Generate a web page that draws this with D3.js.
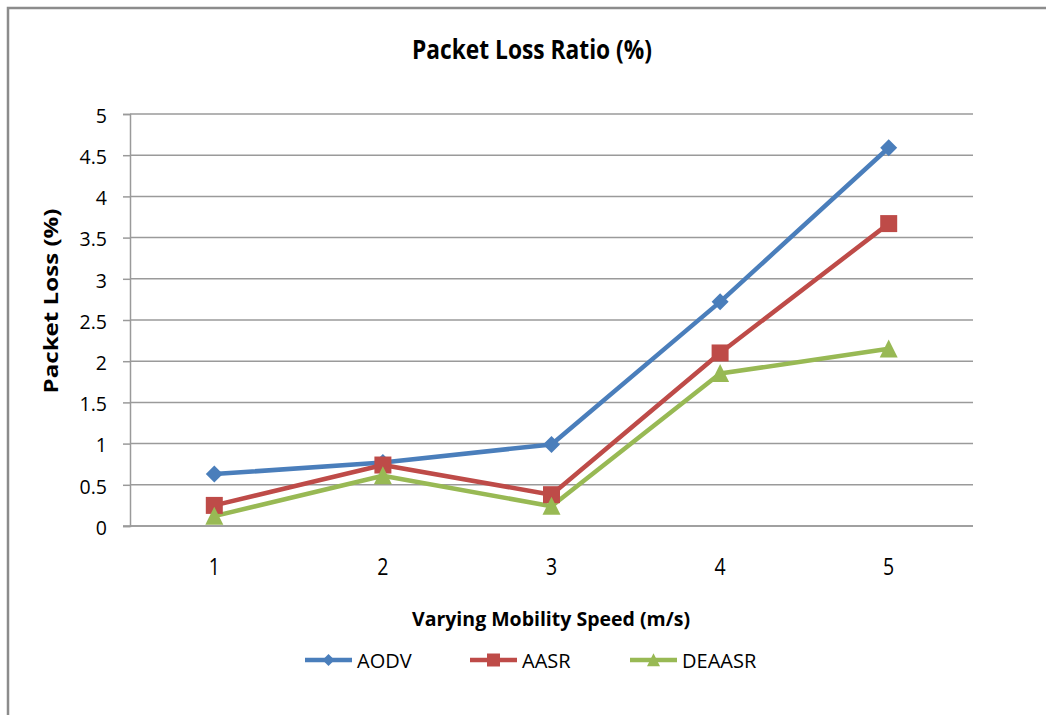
<!DOCTYPE html>
<html>
<head>
<meta charset="utf-8">
<script src="https://cdn.jsdelivr.net/npm/d3@7"></script>
<style>
  html, body { margin: 0; padding: 0; background: #fff; }
  svg { display: block; }
  text { font-family: "Open Sans", "Liberation Sans", sans-serif; fill: #000; }
</style>
</head>
<body>
<svg id="chart" width="1046" height="715"></svg>
<script>
const categories = ["1", "2", "3", "4", "5"];
const yTicks = [0, 0.5, 1, 1.5, 2, 2.5, 3, 3.5, 4, 4.5, 5];
const seriesNames = ["AODV", "AASR", "DEAASR"];
const aodv   = [0.63, 0.77, 0.99, 2.72, 4.59];
const aasr   = [0.25, 0.74, 0.38, 2.10, 3.67];
const deaasr = [0.12, 0.61, 0.24, 1.85, 2.15];
const seriesColors = ["#4A7EBB", "#BE4B48", "#98B954"];
const markerTypes = ["diamond", "square", "triangle"];

(function () {
const svg = d3.select("#chart");
const W = 1046, H = 715;

// frame border
svg.append("path")
  .attr("d", `M8,${H} L8,8 L${W},8`)
  .attr("fill", "none").attr("stroke", "#8c8c8c").attr("stroke-width", 2.5);

const pLeft = 130, pRight = 973, pTop = 114, pBottom = 526;
const x = d3.scaleBand().domain(categories).range([pLeft, pRight]);
const y = d3.scaleLinear().domain([0, 5]).range([pBottom, pTop]);

// gridlines
svg.append("g").selectAll("line").data(yTicks).join("line")
  .attr("x1", pLeft).attr("x2", pRight)
  .attr("y1", d => y(d)).attr("y2", d => y(d))
  .attr("stroke", "#9a9a9a").attr("stroke-width", 1.5);

// y axis
const yAxis = d3.axisLeft(y).tickValues(yTicks).tickSize(7).tickPadding(16)
  .tickFormat(d => String(d));
const gy = svg.append("g").attr("transform", `translate(${pLeft},0)`).call(yAxis);
gy.select(".domain").attr("stroke", "#9a9a9a").attr("stroke-width", 1.5);
gy.selectAll(".tick line").attr("stroke", "#9a9a9a").attr("stroke-width", 1.5);
gy.selectAll(".tick text").style("font-size", "19.5px").attr("fill", "#000")
  .attr("dy", "0.42em")
  .style("font-family", "'Open Sans', sans-serif");

// x axis
const xAxis = d3.axisBottom(x).tickSize(0).tickPadding(0);
const gx = svg.append("g").attr("transform", `translate(0,${pBottom})`).call(xAxis);
gx.select(".domain").remove();
gx.selectAll(".tick text")
  .attr("y", 0).attr("dy", 0)
  .attr("transform", "translate(0,49) scale(1,1.22)")
  .style("font-size", "19.5px").attr("fill", "#000")
  .style("font-family", "'Open Sans', sans-serif");
svg.append("line").attr("x1", pLeft - 7).attr("x2", pRight)
  .attr("y1", pBottom).attr("y2", pBottom)
  .attr("stroke", "#9a9a9a").attr("stroke-width", 1.5);

// series
const allSeries = [aodv, aasr, deaasr];
const cx = c => x(c) + x.bandwidth() / 2;
const line = d3.line().x((d, i) => cx(categories[i])).y(d => y(d));

function markerPath(type, size) {
  const s = size / 2;
  if (type === "diamond") return `M0,${-s} L${s},0 L0,${s} L${-s},0 Z`;
  if (type === "square") return `M${-s},${-s} L${s},${-s} L${s},${s} L${-s},${s} Z`;
  return `M0,${-s * 1.05} L${s},${s * 0.95} L${-s},${s * 0.95} Z`;
}
const markerSizes = [17, 17, 18];

allSeries.forEach((vals, k) => {
  svg.append("path").datum(vals)
    .attr("d", line)
    .attr("fill", "none")
    .attr("stroke", seriesColors[k])
    .attr("stroke-width", 4.5)
    .attr("stroke-linejoin", "round");
});
allSeries.forEach((vals, k) => {
  svg.append("g").selectAll("path").data(vals).join("path")
    .attr("transform", (d, i) => `translate(${cx(categories[i])},${y(d)})`)
    .attr("d", markerPath(markerTypes[k], markerSizes[k]))
    .attr("fill", seriesColors[k]);
});

// titles
svg.append("text")
  .attr("transform", "translate(532,59) scale(1,1.2)")
  .attr("text-anchor", "middle")
  .attr("textLength", 240).attr("lengthAdjust", "spacingAndGlyphs")
  .style("font-size", "23px").style("font-weight", "bold")
  .style("font-family", "'Open Sans', sans-serif")
  .text("Packet Loss Ratio (%)");

svg.append("text")
  .attr("transform", "translate(58,301) rotate(-90)")
  .attr("text-anchor", "middle")
  .attr("textLength", 185).attr("lengthAdjust", "spacingAndGlyphs")
  .style("font-size", "19px").style("font-weight", "bold")
  .style("font-family", "'Open Sans', sans-serif")
  .text("Packet Loss (%)");

svg.append("text").attr("x", 551).attr("y", 626)
  .attr("text-anchor", "middle")
  .attr("textLength", 278).attr("lengthAdjust", "spacingAndGlyphs")
  .style("font-size", "20px").style("font-weight", "bold")
  .style("font-family", "'Open Sans', sans-serif")
  .text("Varying Mobility Speed (m/s)");

// legend
const legendX = [305, 470, 630];
const legendY = 660;
seriesNames.forEach((name, k) => {
  const g = svg.append("g").attr("transform", `translate(${legendX[k]},${legendY})`);
  g.append("line").attr("x1", 0).attr("x2", 47).attr("y1", 0).attr("y2", 0)
    .attr("stroke", seriesColors[k]).attr("stroke-width", 4.5);
  g.append("path").attr("transform", "translate(23.5,0)")
    .attr("d", markerPath(markerTypes[k], markerTypes[k] === "diamond" ? 12 : 13))
    .attr("fill", seriesColors[k]);
  g.append("text").attr("x", 52).attr("y", 8)
    .style("font-size", "20px")
    .style("font-family", "'Open Sans', sans-serif")
    .text(name);
});
})();
</script>
</body>
</html>
